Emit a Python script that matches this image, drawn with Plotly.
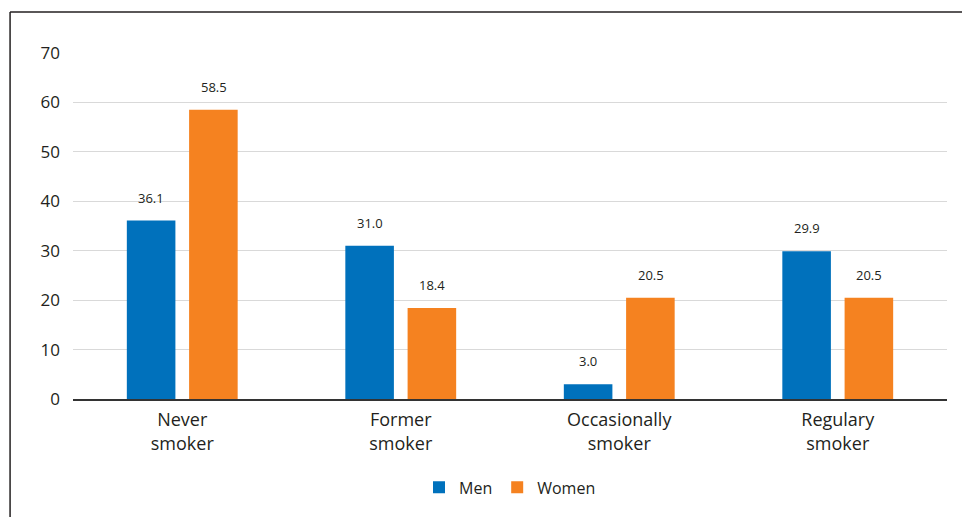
import plotly.graph_objects as go

categories = ["Never<br>smoker", "Former<br>smoker", "Occasionally<br>smoker", "Regulary<br>smoker"]
men = [36.1, 31.0, 3.0, 29.9]
women = [58.5, 18.4, 20.5, 20.5]
y_ticks = [0, 10, 20, 30, 40, 50, 60, 70]

FONT = "Open Sans, Noto Sans, sans-serif"
TXT = "#231f20"

fig = go.Figure()
fig.add_trace(go.Bar(name="Men", x=categories, y=men, marker_color="#0071bc",
                     marker_line_width=0))
fig.add_trace(go.Bar(name="Women", x=categories, y=women, marker_color="#f58220",
                     marker_line_width=0))

# value labels above the bars
for series, shift in ((men, -31), (women, 31.5)):
    for c, v in zip(categories, series):
        fig.add_annotation(x=c, y=v, text=f"{v:.1f}", showarrow=False,
                           xshift=shift, yshift=12, yanchor="bottom",
                           font=dict(size=13, color=TXT, family=FONT))

fig.update_layout(
    width=962, height=517,
    margin=dict(l=73, r=15, t=53, b=118),
    paper_bgcolor="white", plot_bgcolor="white",
    barmode="group", bargap=0.43, bargroupgap=0.22,
    font=dict(family=FONT, color=TXT, size=16),
    showlegend=True,
    legend=dict(orientation="h", x=0.5, xanchor="center", yref="container",
                y=0.09, yanchor="top",
                font=dict(size=16, color=TXT), itemwidth=30, traceorder="normal"),
)
fig.update_yaxes(range=[0, 70], tickvals=y_ticks, showgrid=True, gridcolor="#d9d9d9",
                 gridwidth=1, zeroline=False, showline=False, ticks="",
                 ticklabelstandoff=12, tickfont=dict(size=17, color=TXT), automargin=False)
fig.update_xaxes(showline=True, linecolor="#333333", linewidth=1.5, ticks="",
                 tickfont=dict(size=18, color=TXT), ticklabelstandoff=4, automargin=False)

# frame lines (top and left) as in the reference
fig.add_shape(type="line", xref="paper", yref="paper", x0=-0.072, x1=1.1, y0=1.1185, y1=1.1185,
              line=dict(color="#231f20", width=1.5))
fig.add_shape(type="line", xref="paper", yref="paper", x0=-0.072, x1=-0.072, y0=-0.4, y1=1.1185,
              line=dict(color="#231f20", width=1.5))

fig.write_html("out.html")
